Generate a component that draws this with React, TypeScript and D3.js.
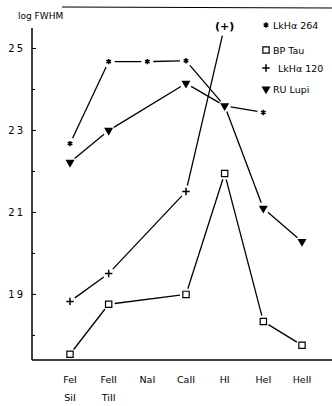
import React from "react"
import * as d3 from "d3"

const lines = ["FeI", "FeII", "NaI", "CaII", "HI", "HeI", "HeII"]
const lowerLabels = ["SiI", "TiII", "", "", "", "", ""]
const yTicks = [25, 23, 21, 19]
const yMinor = [24, 22, 20, 18]

const lkha264 = [22.68, 24.68, 24.68, 24.7, 23.6, 23.44, null]
const bpTau = [17.54, 18.76, null, 19.0, 21.95, 18.34, 17.76]
const lkha120 = [18.83, 19.51, null, 21.51, 25.55, null, null]
const ruLupi = [22.22, 23.0, null, 24.15, 23.6, 21.1, 20.29]

const W = 332
const H = 406
const font = "'DejaVu Sans', sans-serif"

type Series = { name: string; values: (number | null)[]; symbol: d3.SymbolType; filled: boolean; size: number }

const series: Series[] = [
    { name: "LkHα 264", values: lkha264, symbol: d3.symbolAsterisk, filled: false, size: 20 },
    { name: "BP Tau", values: bpTau, symbol: d3.symbolSquare, filled: false, size: 40 },
    { name: "LkHα 120", values: lkha120, symbol: d3.symbolPlus, filled: false, size: 20 },
    { name: "RU Lupi", values: ruLupi, symbol: d3.symbolTriangle, filled: true, size: 18 },
]

export default function App() {
    const x = d3.scalePoint<string>().domain(lines).range([70, 302])
    const y = d3.scaleLinear().domain([17.4, 25.5]).range([360, 28])

    const segs: { x1: number; y1: number; x2: number; y2: number; key: string }[] = []
    series.forEach(s => {
        const pts = s.values
            .map((v, i) => (v == null ? null : { cx: x(lines[i])!, cy: y(v), i }))
            .filter(Boolean) as { cx: number; cy: number; i: number }[]
        for (let k = 0; k < pts.length - 1; k++) {
            const a = pts[k]
            const b = pts[k + 1]
            const dx = b.cx - a.cx
            const dy = b.cy - a.cy
            const len = Math.hypot(dx, dy)
            const gapA = 6
            const gapB = s.name === "LkHα 120" && b.i === 4 ? 10 : 6
            segs.push({
                x1: a.cx + (dx / len) * gapA,
                y1: a.cy + (dy / len) * gapA,
                x2: b.cx - (dx / len) * gapB,
                y2: b.cy - (dy / len) * gapB,
                key: `${s.name}-${k}`,
            })
        }
    })

    const marker = (s: Series, cx: number, cy: number, key: string) => {
        const path = d3.symbol().type(s.symbol).size(s.size)()!
        const rot = s.symbol === d3.symbolTriangle ? " rotate(180)" : ""
        return (
            <path
                key={key}
                d={path}
                transform={`translate(${cx},${cy})${rot}`}
                fill={s.filled ? "#000" : "none"}
                stroke="#000"
                strokeWidth={s.symbol === d3.symbolSquare ? 1.2 : 1.5}
            />
        )
    }

    const legendY = [25, 50, 68, 89]
    const legendTextX = [273, 273, 278, 273]

    return (
        <svg width={W} height={H} style={{ position: "absolute", left: 0, top: 0, background: "#fff" }}>
            <line x1={62} y1={7} x2={W} y2={8} stroke="#000" strokeWidth={1.2} />
            <text x={18} y={19} fontFamily={font} fontSize={9}>log FWHM</text>

            {/* axes */}
            <line x1={32} y1={y(25.5)} x2={32} y2={360} stroke="#000" strokeWidth={1.5} />
            <line x1={32} y1={360} x2={W} y2={360} stroke="#000" strokeWidth={1.5} />
            {yTicks.map(t => (
                <g key={t}>
                    <line x1={32} x2={36} y1={y(t)} y2={y(t)} stroke="#000" />
                    <text x={25} y={y(t) + 4} textAnchor="end" fontFamily={font} fontSize={10} letterSpacing={2}>
                        {t}
                    </text>
                </g>
            ))}
            {yMinor.map(t => (
                <line key={t} x1={32} x2={35} y1={y(t)} y2={y(t)} stroke="#000" />
            ))}
            {lines.map((c, i) => (
                <g key={c}>
                    <text x={x(c)} y={383} textAnchor="middle" fontFamily={font} fontSize={9.5} fill="#000">{c}</text>
                    {lowerLabels[i] && (
                        <text x={x(c)} y={401} textAnchor="middle" fontFamily={font} fontSize={9.5} fill="#000">{lowerLabels[i]}</text>
                    )}
                </g>
            ))}

            {/* connecting lines */}
            {segs.map(d => (
                <line key={d.key} x1={d.x1} y1={d.y1} x2={d.x2} y2={d.y2} stroke="#000" strokeWidth={1.3} />
            ))}

            {/* markers */}
            {series.map(s =>
                s.values.map((v, i) => {
                    if (v == null) return null
                    if (s.name === "LkHα 264" && i === 4) return null
                    if (s.name === "LkHα 120" && i === 4) {
                        return (
                            <text key={`${s.name}-${i}`} x={x(lines[i])} y={y(v) + 4} textAnchor="middle"
                                fontFamily={font} fontSize={11} fontWeight="bold">(+)</text>
                        )
                    }
                    return marker(s, x(lines[i])!, y(v), `${s.name}-${i}`)
                })
            )}

            {/* legend */}
            {series.map((s, i) => (
                <g key={s.name}>
                    {marker(s, 266, legendY[i], `leg-${s.name}`)}
                    <text x={legendTextX[i]} y={legendY[i] + 4} fontFamily={font} fontSize={9.5}>{s.name}</text>
                </g>
            ))}
        </svg>
    )
}
